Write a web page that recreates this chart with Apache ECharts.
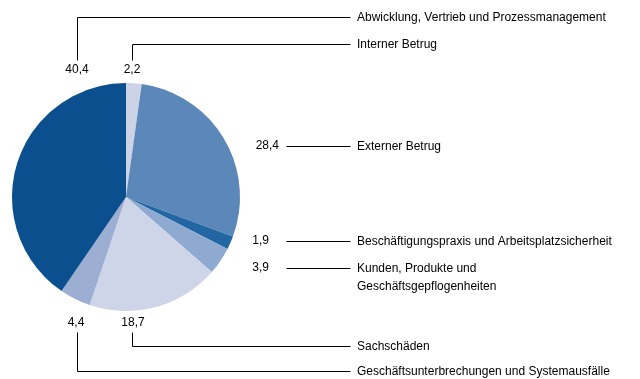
<!DOCTYPE html>
<html>
<head>
<meta charset="utf-8">
<script src="https://cdn.jsdelivr.net/npm/echarts@6/dist/echarts.min.js"></script>
<style>
  html, body { margin: 0; padding: 0; background: #fff; }
  #chart { width: 640px; height: 379px; }
</style>
</head>
<body>
<div id="chart"></div>
<script>
// Operational loss shares by event type (percent), clockwise from 12 o'clock
const categories = [
  'Interner Betrug',
  'Externer Betrug',
  'Beschäftigungspraxis und Arbeitsplatzsicherheit',
  'Kunden, Produkte und\nGeschäftsgepflogenheiten',
  'Sachschäden',
  'Geschäftsunterbrechungen und Systemausfälle',
  'Abwicklung, Vertrieb und Prozessmanagement'
];
const values = [2.2, 28.4, 1.9, 3.9, 18.7, 4.4, 40.4];
const colors = ['#cdd3e6', '#5b87b9', '#2267a4', '#8eaad0', '#cfd5e8', '#9daed3', '#0b4f8f'];

// Callout placement for each slice: value label position, leader line, name position
const callouts = [
  { val: [132, 70, 'center'], line: [[132, 60], [132, 44], [350, 44]], name: [357, 44] },
  { val: [279, 146, 'right'], line: [[286, 146], [350, 146]], name: [357, 146] },
  { val: [269, 241, 'right'], line: [[286, 241], [350, 241]], name: [357, 241] },
  { val: [269, 268, 'right'], line: [[286, 268], [350, 268]], name: [357, 268] },
  { val: [133, 323, 'center'], line: [[132, 332], [132, 346], [350, 346]], name: [357, 346] },
  { val: [76, 323, 'center'], line: [[77, 332], [77, 371], [350, 371]], name: [357, 371] },
  { val: [77, 70, 'center'], line: [[77, 60], [77, 17], [350, 17]], name: [357, 17] }
];

const fmt = v => v.toFixed(1).replace('.', ',');
const font = '"Liberation Sans", Arial, sans-serif';
const crisp = p => [p[0] + 0.5, p[1] + 0.5];

const graphics = [];
callouts.forEach((c, i) => {
  graphics.push({
    type: 'polyline',
    shape: { points: c.line.map(crisp) },
    style: { stroke: '#000', lineWidth: 1, fill: null },
    silent: true
  });
  graphics.push({
    type: 'text',
    x: c.val[0], y: c.val[1],
    style: {
      text: fmt(values[i]), fill: '#000', font: '12px ' + font,
      align: c.val[2], verticalAlign: 'middle'
    }
  });
  // first line of the name centred on its leader line
  graphics.push({
    type: 'text',
    x: c.name[0], y: c.name[1] - 8,
    style: {
      text: categories[i], fill: '#000', font: '12px ' + font,
      align: 'left', verticalAlign: 'top', lineHeight: 18
    }
  });
});

const chart = echarts.init(document.getElementById('chart'), null, { renderer: 'canvas' });
chart.setOption({
  animation: false,
  backgroundColor: '#fff',
  series: [{
    type: 'pie',
    center: [126, 197],
    radius: 114,
    startAngle: 90,
    clockwise: true,
    label: { show: false },
    labelLine: { show: false },
    itemStyle: { borderWidth: 0 },
    emphasis: { disabled: true },
    data: categories.map((name, i) => ({
      name, value: values[i], itemStyle: { color: colors[i] }
    }))
  }],
  graphic: graphics
});
</script>
</body>
</html>
